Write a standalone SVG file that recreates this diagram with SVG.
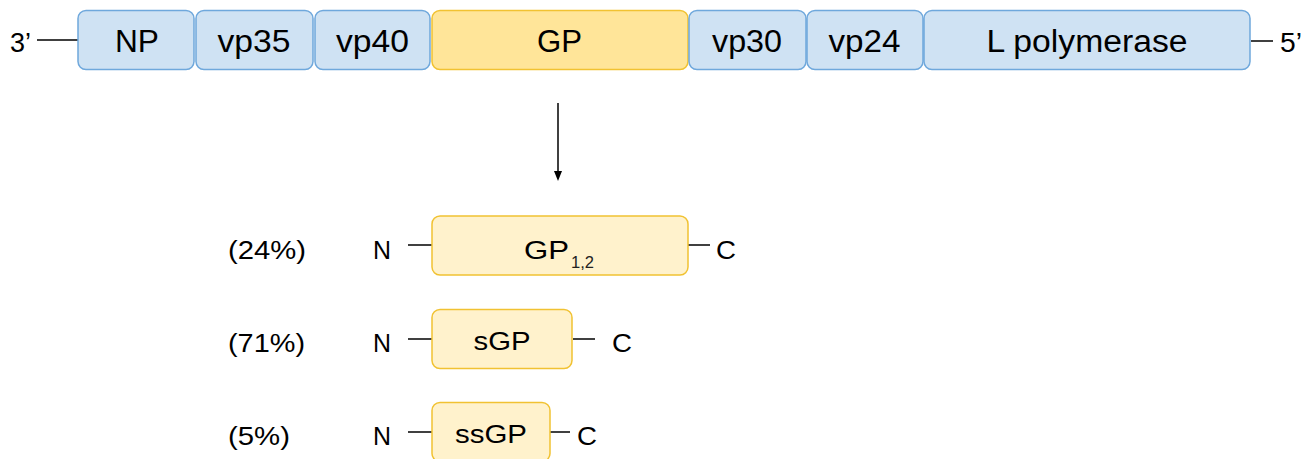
<svg xmlns="http://www.w3.org/2000/svg" width="1308" height="459" viewBox="0 0 1308 459">
  <style>
    .gene { fill: #cfe2f3; stroke: #6fa8dc; stroke-width: 1.5; }
    .gp { fill: #ffe599; stroke: #f1c232; stroke-width: 1.5; }
    .prot { fill: #fff2cc; stroke: #f1c232; stroke-width: 1.5; }
    .lbl { font-family: "Liberation Sans", Arial, sans-serif; font-size: 31px; fill: #000; text-anchor: middle; }
    .sm { font-family: "Liberation Sans", Arial, sans-serif; font-size: 25px; fill: #000; }
    .end { font-size: 27px; }
    .sub { font-size: 16px; fill: #222; }
    .mid { text-anchor: middle; }
    .wire { stroke: #000; stroke-width: 1.5; fill: none; }
  </style>
  <defs>
    <marker id="arrowhead" markerWidth="10" markerHeight="10" refX="5" refY="5" orient="auto" markerUnits="userSpaceOnUse">
      <path d="M0,1 L10,5 L0,9 Z" fill="#000"/>
    </marker>
  </defs>

  <rect width="1308" height="459" fill="#fff"/>

  <!-- genome ends and connectors -->
  <g id="connectors">
    <line class="wire" x1="37" y1="40" x2="78" y2="40"/>
    <line class="wire" x1="1251" y1="41" x2="1273" y2="41"/>
    <line class="wire" x1="558" y1="103" x2="558" y2="176" marker-end="url(#arrowhead)"/>
    <line class="wire" x1="408" y1="245" x2="432" y2="245"/>
    <line class="wire" x1="688" y1="245" x2="710" y2="245"/>
    <line class="wire" x1="408" y1="339" x2="432" y2="339"/>
    <line class="wire" x1="573" y1="339" x2="595" y2="339"/>
    <line class="wire" x1="408" y1="432" x2="432" y2="432"/>
    <line class="wire" x1="550" y1="432" x2="570" y2="432"/>
  </g>

  <g id="end3">
    <text class="sm end" x="10" y="52" textLength="21" lengthAdjust="spacingAndGlyphs">3’</text>
  </g>
  <g id="end5">
    <text class="sm end" x="1280" y="52" textLength="22" lengthAdjust="spacingAndGlyphs">5’</text>
  </g>

  <!-- genome segments -->
  <g id="np">
    <rect class="gene" x="78" y="10.5" width="116" height="59" rx="8"/>
    <text class="lbl" x="137" y="52" textLength="44" lengthAdjust="spacingAndGlyphs">NP</text>
  </g>
  <g id="vp35">
    <rect class="gene" x="196" y="10.5" width="117" height="59" rx="8"/>
    <text class="lbl" x="254" y="52" textLength="73" lengthAdjust="spacingAndGlyphs">vp35</text>
  </g>
  <g id="vp40">
    <rect class="gene" x="315" y="10.5" width="115" height="59" rx="8"/>
    <text class="lbl" x="372.5" y="52" textLength="73" lengthAdjust="spacingAndGlyphs">vp40</text>
  </g>
  <g id="gp">
    <rect class="gp" x="432" y="10.5" width="256" height="59" rx="8"/>
    <text class="lbl" x="559.5" y="52" textLength="45" lengthAdjust="spacingAndGlyphs">GP</text>
  </g>
  <g id="vp30">
    <rect class="gene" x="689" y="10.5" width="117" height="59" rx="8"/>
    <text class="lbl" x="747" y="52" textLength="70" lengthAdjust="spacingAndGlyphs">vp30</text>
  </g>
  <g id="vp24">
    <rect class="gene" x="807" y="10.5" width="116" height="59" rx="8"/>
    <text class="lbl" x="864.5" y="52" textLength="72" lengthAdjust="spacingAndGlyphs">vp24</text>
  </g>
  <g id="lpol">
    <rect class="gene" x="924" y="10.5" width="326" height="59" rx="8"/>
    <text class="lbl" x="1087" y="52" textLength="201" lengthAdjust="spacingAndGlyphs">L polymerase</text>
  </g>

  <!-- GP products -->
  <g id="gp12">
    <text class="sm" x="228" y="259" textLength="78" lengthAdjust="spacingAndGlyphs">(24%)</text>
    <text class="sm" x="373" y="259" textLength="18" lengthAdjust="spacingAndGlyphs">N</text>
    <rect class="prot" x="432" y="216" width="256" height="59" rx="8"/>
    <text class="sm" x="524" y="259" textLength="45" lengthAdjust="spacingAndGlyphs">GP</text>
    <text class="sm sub" x="571" y="268" textLength="23" lengthAdjust="spacingAndGlyphs">1,2</text>
    <text class="sm" x="716" y="259" textLength="20" lengthAdjust="spacingAndGlyphs">C</text>
  </g>
  <g id="sgp">
    <text class="sm" x="228" y="352" textLength="77" lengthAdjust="spacingAndGlyphs">(71%)</text>
    <text class="sm" x="373" y="352" textLength="18" lengthAdjust="spacingAndGlyphs">N</text>
    <rect class="prot" x="432" y="309.5" width="140" height="59" rx="8"/>
    <text class="sm mid" x="502" y="350" textLength="57" lengthAdjust="spacingAndGlyphs">sGP</text>
    <text class="sm" x="612" y="352" textLength="20" lengthAdjust="spacingAndGlyphs">C</text>
  </g>
  <g id="ssgp">
    <text class="sm" x="228" y="445" textLength="62" lengthAdjust="spacingAndGlyphs">(5%)</text>
    <text class="sm" x="373" y="445" textLength="18" lengthAdjust="spacingAndGlyphs">N</text>
    <rect class="prot" x="432" y="402.5" width="118" height="59" rx="8"/>
    <text class="sm mid" x="491" y="443" textLength="72" lengthAdjust="spacingAndGlyphs">ssGP</text>
    <text class="sm" x="577" y="445" textLength="20" lengthAdjust="spacingAndGlyphs">C</text>
  </g>
</svg>
